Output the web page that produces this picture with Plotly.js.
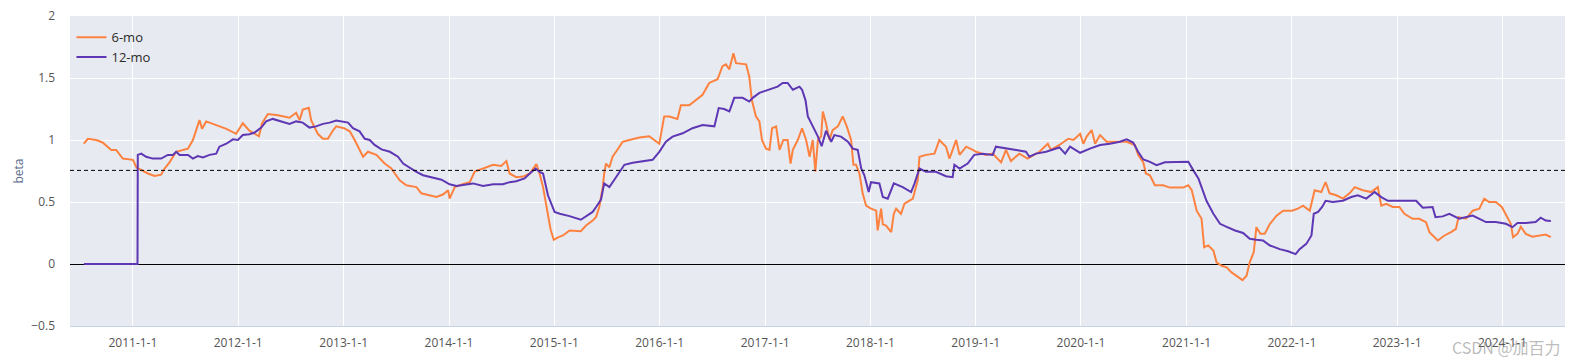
<!DOCTYPE html>
<html>
<head>
<meta charset="utf-8">
<script src="https://cdn.plot.ly/plotly-3.0.1.min.js"></script>
<style>html,body{margin:0;padding:0;background:#fff;}#chart{width:1577px;height:362px;}</style>
</head>
<body>
<div id="chart"></div>
<script>
// 6-month rolling beta
const dates6 = ["2010-07-15","2010-07-29","2010-08-27","2010-09-18","2010-10-18","2010-11-04","2010-11-27","2011-01-01","2011-01-13","2011-01-30","2011-02-22","2011-03-17","2011-04-09","2011-04-21","2011-05-08","2011-05-31","2011-06-23","2011-07-11","2011-07-28","2011-08-08","2011-08-20","2011-08-29","2011-09-12","2011-10-17","2011-11-21","2011-12-25","2012-01-11","2012-01-17","2012-02-09","2012-03-03","2012-03-13","2012-03-24","2012-04-13","2012-05-18","2012-06-27","2012-07-20","2012-08-01","2012-08-12","2012-09-02","2012-09-10","2012-10-03","2012-10-21","2012-11-07","2012-11-24","2012-12-06","2013-01-02","2013-01-22","2013-02-08","2013-02-25","2013-03-09","2013-03-26","2013-04-24","2013-05-23","2013-06-15","2013-06-27","2013-07-14","2013-08-06","2013-09-10","2013-09-27","2013-10-26","2013-11-18","2013-12-11","2013-12-29","2014-01-03","2014-01-21","2014-02-19","2014-03-14","2014-03-31","2014-04-29","2014-06-03","2014-07-01","2014-07-19","2014-07-30","2014-08-22","2014-09-15","2014-10-08","2014-10-31","2014-11-11","2014-11-23","2014-12-04","2014-12-14","2014-12-19","2014-12-30","2015-01-14","2015-01-31","2015-02-23","2015-04-03","2015-04-21","2015-05-14","2015-05-26","2015-06-06","2015-06-18","2015-06-23","2015-06-29","2015-07-11","2015-07-22","2015-08-03","2015-08-26","2015-09-18","2015-10-23","2015-11-26","2015-12-31","2016-01-17","2016-02-04","2016-03-03","2016-03-15","2016-04-13","2016-05-06","2016-05-29","2016-06-21","2016-07-20","2016-08-06","2016-08-18","2016-08-30","2016-09-13","2016-09-22","2016-10-09","2016-10-27","2016-11-07","2016-11-16","2016-11-30","2016-12-12","2016-12-21","2017-01-04","2017-01-16","2017-01-25","2017-02-08","2017-02-20","2017-03-05","2017-03-20","2017-03-30","2017-04-07","2017-04-24","2017-05-09","2017-05-23","2017-06-04","2017-06-15","2017-06-24","2017-07-03","2017-07-14","2017-07-20","2017-07-31","2017-08-12","2017-08-23","2017-09-10","2017-09-27","2017-10-11","2017-10-26","2017-11-03","2017-11-12","2017-11-24","2017-12-05","2017-12-17","2018-01-03","2018-01-21","2018-01-26","2018-02-07","2018-02-13","2018-02-24","2018-03-14","2018-03-23","2018-03-31","2018-04-17","2018-04-29","2018-05-28","2018-06-14","2018-06-20","2018-07-13","2018-08-11","2018-08-28","2018-09-20","2018-10-02","2018-10-13","2018-10-25","2018-11-06","2018-11-29","2018-12-22","2019-01-02","2019-02-06","2019-03-01","2019-03-30","2019-04-16","2019-05-03","2019-06-01","2019-06-30","2019-08-10","2019-09-08","2019-09-19","2019-10-18","2019-11-01","2019-11-18","2019-12-06","2019-12-29","2020-01-09","2020-01-21","2020-02-07","2020-02-19","2020-03-07","2020-03-30","2020-05-03","2020-06-07","2020-07-06","2020-07-17","2020-08-04","2020-08-13","2020-08-27","2020-09-13","2020-10-12","2020-11-04","2020-12-03","2020-12-20","2021-01-07","2021-01-19","2021-02-05","2021-02-22","2021-03-03","2021-03-17","2021-04-04","2021-04-15","2021-05-03","2021-05-20","2021-06-06","2021-06-23","2021-07-14","2021-07-28","2021-08-08","2021-08-22","2021-08-31","2021-09-14","2021-09-29","2021-10-17","2021-11-09","2021-12-02","2022-01-01","2022-01-22","2022-02-09","2022-03-04","2022-03-21","2022-04-13","2022-04-28","2022-05-12","2022-06-04","2022-06-27","2022-07-20","2022-08-07","2022-09-04","2022-10-03","2022-10-26","2022-11-07","2022-11-24","2022-12-17","2023-01-09","2023-01-26","2023-02-24","2023-03-19","2023-04-11","2023-04-23","2023-05-22","2023-06-14","2023-07-07","2023-07-24","2023-08-02","2023-08-28","2023-09-20","2023-10-13","2023-10-30","2023-11-16","2023-12-09","2023-12-30","2024-01-19","2024-01-30","2024-02-07","2024-02-22","2024-03-05","2024-03-22","2024-04-14","2024-05-13","2024-05-30","2024-06-17"];
const beta6 = [0.97,1.01,1.00,0.98,0.92,0.92,0.85,0.84,0.78,0.76,0.73,0.71,0.72,0.77,0.82,0.905,0.92,0.93,1.00,1.08,1.16,1.09,1.15,1.12,1.09,1.05,1.11,1.135,1.075,1.04,1.03,1.135,1.21,1.20,1.18,1.22,1.16,1.245,1.26,1.16,1.05,1.01,1.01,1.075,1.11,1.095,1.07,1.00,0.92,0.865,0.905,0.88,0.81,0.77,0.73,0.675,0.635,0.62,0.57,0.555,0.54,0.56,0.595,0.527,0.62,0.645,0.66,0.745,0.77,0.80,0.79,0.83,0.73,0.70,0.705,0.73,0.805,0.73,0.62,0.485,0.34,0.28,0.195,0.215,0.23,0.27,0.265,0.31,0.35,0.38,0.46,0.62,0.73,0.81,0.78,0.865,0.905,0.985,1.00,1.02,1.03,0.97,1.19,1.19,1.17,1.28,1.28,1.32,1.365,1.46,1.49,1.595,1.61,1.57,1.70,1.62,1.615,1.61,1.51,1.32,1.19,1.15,1.00,0.93,0.92,1.095,1.11,0.92,1.00,1.00,0.81,0.92,1.00,1.095,1.00,0.865,1.00,0.745,1.00,1.03,1.23,1.135,1.00,1.08,1.11,1.19,1.11,1.00,0.80,0.80,0.73,0.57,0.47,0.446,0.43,0.27,0.446,0.32,0.31,0.257,0.405,0.446,0.405,0.486,0.527,0.675,0.865,0.88,0.89,1.00,0.946,0.85,0.92,1.00,0.88,0.946,0.92,0.905,0.88,0.89,0.82,0.92,0.83,0.89,0.85,0.905,0.97,0.92,0.96,0.986,1.01,1.00,1.05,0.97,1.03,1.08,0.97,1.04,0.986,0.986,0.986,0.96,0.88,0.82,0.73,0.716,0.635,0.635,0.616,0.616,0.616,0.635,0.595,0.43,0.365,0.135,0.15,0.108,0.014,-0.014,-0.027,-0.068,-0.095,-0.13,-0.095,0.014,0.095,0.297,0.243,0.243,0.324,0.39,0.43,0.43,0.446,0.47,0.43,0.595,0.58,0.66,0.57,0.554,0.527,0.57,0.62,0.595,0.58,0.62,0.47,0.486,0.46,0.46,0.405,0.365,0.365,0.338,0.257,0.19,0.23,0.257,0.284,0.378,0.365,0.43,0.446,0.527,0.50,0.50,0.46,0.378,0.324,0.216,0.243,0.30,0.243,0.22,0.23,0.238,0.216];

// 12-month rolling beta
const dates12 = ["2010-07-15","2011-01-17","2011-01-18","2011-01-30","2011-02-16","2011-03-11","2011-04-09","2011-05-02","2011-05-20","2011-05-31","2011-06-12","2011-07-11","2011-07-28","2011-08-14","2011-09-01","2011-09-24","2011-10-17","2011-10-28","2011-11-21","2011-12-14","2011-12-31","2012-01-17","2012-02-09","2012-02-27","2012-03-21","2012-04-07","2012-04-30","2012-05-29","2012-06-27","2012-07-20","2012-08-12","2012-09-04","2012-09-27","2012-10-21","2012-11-13","2012-12-06","2012-12-29","2013-01-16","2013-02-02","2013-02-25","2013-03-15","2013-04-01","2013-04-18","2013-05-12","2013-06-10","2013-07-08","2013-07-26","2013-08-18","2013-09-10","2013-10-03","2013-11-07","2013-12-06","2014-01-03","2014-01-27","2014-02-24","2014-03-25","2014-04-29","2014-06-03","2014-07-07","2014-07-30","2014-08-22","2014-09-20","2014-10-08","2014-10-28","2014-11-11","2014-11-23","2014-12-10","2014-12-22","2015-01-02","2015-01-20","2015-02-23","2015-04-03","2015-04-26","2015-05-14","2015-05-26","2015-06-12","2015-06-23","2015-07-11","2015-08-03","2015-09-01","2015-09-30","2015-11-03","2015-12-08","2015-12-31","2016-01-23","2016-02-15","2016-03-21","2016-04-24","2016-05-29","2016-07-09","2016-07-24","2016-08-12","2016-08-30","2016-09-16","2016-10-15","2016-11-07","2016-11-19","2016-12-12","2017-01-16","2017-02-13","2017-03-03","2017-03-20","2017-04-07","2017-04-30","2017-05-09","2017-05-21","2017-05-29","2017-06-15","2017-07-03","2017-07-16","2017-07-31","2017-08-18","2017-08-29","2017-09-21","2017-10-15","2017-11-01","2017-11-18","2017-11-30","2017-12-11","2017-12-26","2018-01-03","2018-02-01","2018-02-13","2018-03-02","2018-03-23","2018-04-23","2018-05-22","2018-06-03","2018-06-20","2018-07-13","2018-08-16","2018-09-20","2018-10-13","2018-10-19","2018-11-06","2018-12-04","2018-12-27","2019-01-25","2019-03-01","2019-03-12","2019-04-16","2019-05-21","2019-06-24","2019-07-06","2019-07-29","2019-09-02","2019-10-18","2019-11-07","2019-11-24","2019-12-29","2020-02-01","2020-03-07","2020-04-10","2020-05-15","2020-06-07","2020-06-30","2020-07-17","2020-08-04","2020-08-27","2020-09-19","2020-10-18","2020-11-16","2020-12-14","2021-01-07","2021-01-24","2021-02-11","2021-02-22","2021-03-11","2021-04-04","2021-04-27","2021-05-20","2021-06-18","2021-07-16","2021-08-08","2021-08-31","2021-09-23","2021-10-17","2021-11-20","2021-12-19","2022-01-14","2022-01-28","2022-02-20","2022-03-10","2022-03-18","2022-04-02","2022-04-16","2022-04-28","2022-05-23","2022-06-27","2022-07-26","2022-08-18","2022-09-16","2022-10-15","2022-11-07","2022-11-30","2022-12-28","2023-02-01","2023-03-08","2023-03-31","2023-05-04","2023-05-14","2023-06-08","2023-07-01","2023-08-04","2023-09-20","2023-11-05","2023-12-09","2024-01-13","2024-02-05","2024-02-22","2024-03-22","2024-04-25","2024-05-13","2024-05-30","2024-06-17"];
const beta12 = [0,0,0.88,0.89,0.865,0.85,0.85,0.88,0.88,0.905,0.88,0.88,0.85,0.87,0.86,0.88,0.89,0.946,0.97,1.005,1.00,1.04,1.046,1.06,1.10,1.15,1.17,1.15,1.13,1.15,1.14,1.10,1.11,1.13,1.14,1.157,1.15,1.14,1.095,1.07,1.01,1.00,0.96,0.924,0.905,0.865,0.81,0.776,0.743,0.716,0.697,0.68,0.643,0.63,0.64,0.65,0.63,0.643,0.643,0.66,0.668,0.69,0.73,0.77,0.743,0.73,0.554,0.486,0.42,0.405,0.386,0.357,0.39,0.42,0.46,0.52,0.65,0.62,0.70,0.80,0.816,0.83,0.84,0.905,0.986,1.027,1.054,1.095,1.12,1.11,1.257,1.25,1.23,1.34,1.34,1.31,1.34,1.38,1.405,1.43,1.46,1.46,1.405,1.43,1.405,1.32,1.19,1.11,1.027,0.95,1.075,0.986,1.04,1.027,0.986,0.93,0.92,0.77,0.716,0.58,0.66,0.65,0.54,0.527,0.65,0.62,0.58,0.65,0.77,0.743,0.743,0.708,0.70,0.80,0.77,0.81,0.88,0.89,0.88,0.946,0.93,0.92,0.905,0.865,0.89,0.905,0.94,0.89,0.946,0.897,0.93,0.96,0.97,0.986,1.005,0.98,0.905,0.843,0.824,0.797,0.82,0.82,0.824,0.824,0.757,0.69,0.62,0.51,0.405,0.324,0.30,0.27,0.25,0.203,0.195,0.19,0.149,0.12,0.103,0.08,0.12,0.162,0.23,0.405,0.42,0.46,0.51,0.50,0.51,0.54,0.554,0.527,0.58,0.54,0.51,0.51,0.51,0.51,0.454,0.46,0.378,0.384,0.405,0.365,0.39,0.338,0.338,0.324,0.297,0.33,0.33,0.338,0.373,0.35,0.346];

const seriesNames = ["6-mo", "12-mo"];
const refLevel = 0.755;
const yTitle = "beta";
const watermark = "CSDN @加百力";

const traces = [
  {x: dates6, y: beta6, name: seriesNames[0], type: "scatter", mode: "lines",
   line: {color: "#FD8240", width: 2}},
  {x: dates12, y: beta12, name: seriesNames[1], type: "scatter", mode: "lines",
   line: {color: "#5E37B4", width: 2}}
];

const layout = {
  width: 1577, height: 362,
  margin: {l: 70, r: 12, t: 16, b: 36, pad: 0},
  paper_bgcolor: "#ffffff",
  plot_bgcolor: "#E7EAF0",
  font: {family: "Open Sans, Verdana, sans-serif", size: 12, color: "#555"},
  showlegend: true,
  legend: {x: 0.001, y: 0.98, xanchor: "left", yanchor: "top", bgcolor: "rgba(0,0,0,0)",
           font: {size: 13, color: "#2a2a2a"}, tracegroupgap: 0},
  xaxis: {
    type: "date", range: ["2010-05-28", "2024-08-05"],
    tick0: "2011-01-01", dtick: "M12", tickformat: "%Y-%-m-%-d",
    showgrid: true, gridcolor: "#ffffff", gridwidth: 1,
    zeroline: false, showline: true, linecolor: "#C6D3E6", linewidth: 1,
    ticks: "", ticklabelstandoff: 6,
    tickfont: {size: 12, color: "#555"}
  },
  yaxis: {
    range: [-0.5, 2], tick0: 0, dtick: 0.5,
    showgrid: true, gridcolor: "#ffffff", gridwidth: 1,
    zeroline: true, zerolinecolor: "#000000", zerolinewidth: 1,
    showline: false, ticks: "", ticklabelstandoff: 14,
    tickfont: {size: 12, color: "#555"},
    title: {text: yTitle, font: {size: 12, color: "#5a6b8c"}, standoff: 5}
  },
  shapes: [
    {type: "line", xref: "paper", x0: 0, x1: 1, yref: "y", y0: refLevel, y1: refLevel,
     line: {color: "#000000", width: 1, dash: "4px,3px"}}
  ],
  annotations: [
    {text: watermark, xref: "paper", yref: "paper", x: 0.9985, y: -0.068,
     xanchor: "right", yanchor: "middle", showarrow: false,
     font: {size: 16, color: "rgba(130,130,130,0.55)", family: "Noto Sans CJK SC, sans-serif"}}
  ]
};

Plotly.newPlot("chart", traces, layout, {displayModeBar: false, staticPlot: true});
</script>
</body>
</html>
